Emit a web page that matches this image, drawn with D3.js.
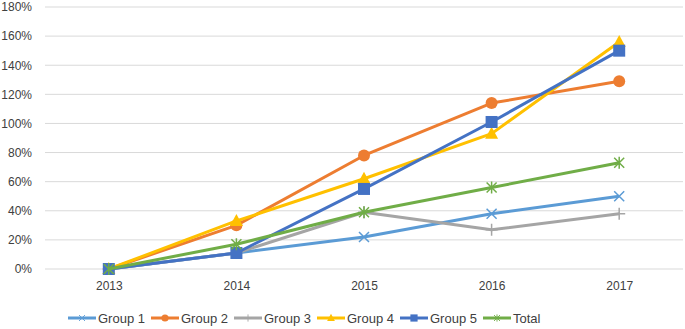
<!DOCTYPE html>
<html>
<head>
<meta charset="utf-8">
<script src="https://cdn.jsdelivr.net/npm/d3@7"></script>
<style>
  body { margin: 0; background: #fff; }
  text { font-family: "Liberation Sans", Arial, sans-serif; fill: #404040; }
</style>
</head>
<body>
<div id="chart"></div>
<script>
var years = ["2013", "2014", "2015", "2016", "2017"];
var yTicks = [0, 20, 40, 60, 80, 100, 120, 140, 160, 180];

var group1 = [0, 11, 22, 38, 50];
var group2 = [0, 30, 78, 114, 129];
var group3 = [0, 11, 39, 27, 38];
var group4 = [0, 33, 62, 93, 156];
var group5 = [0, 11, 55, 101, 150];
var total  = [0, 17, 39, 56, 73];

var seriesNames = ["Group 1", "Group 2", "Group 3", "Group 4", "Group 5", "Total"];
var seriesColors = ["#5b9bd5", "#ed7d31", "#a5a5a5", "#ffc000", "#4472c4", "#70ad47"];
var seriesMarkers = ["x", "circle", "plus", "triangle", "square", "star"];
var seriesValues = [group1, group2, group3, group4, group5, total];

var W = 685, H = 329;
var margin = {top: 7, right: 2, bottom: 60, left: 45};
var width = W - margin.left - margin.right;
var height = 269 - margin.top;

var svg = d3.select("#chart")
  .append("svg")
    .attr("width", W)
    .attr("height", H);

var g = svg.append("g")
    .attr("transform", "translate(" + margin.left + "," + margin.top + ")");

var x = d3.scalePoint()
  .domain(years)
  .range([0, width])
  .padding(0.5);

var y = d3.scaleLinear()
  .domain([0, 180])
  .range([height, 0]);

// gridlines
g.selectAll(".grid")
  .data(yTicks)
  .enter().append("line")
    .attr("x1", 0)
    .attr("x2", width)
    .attr("y1", function(d) { return y(d); })
    .attr("y2", function(d) { return y(d); })
    .attr("stroke", "#d9d9d9")
    .attr("stroke-width", 1);

// y axis labels
var yAxis = g.append("g")
  .call(d3.axisLeft(y).tickValues(yTicks).tickSize(0).tickPadding(13)
    .tickFormat(function(d) { return d + "%"; }));
yAxis.select(".domain").remove();
yAxis.selectAll("text")
  .style("font-size", "12px")
  .style("font-family", "'Liberation Sans', Arial, sans-serif")
  .attr("fill", "#404040");

// x axis labels
var xAxis = g.append("g")
  .attr("transform", "translate(0," + height + ")")
  .call(d3.axisBottom(x).tickSize(0).tickPadding(12));
xAxis.select(".domain").remove();
xAxis.selectAll("text")
  .style("font-size", "12px")
  .style("font-family", "'Liberation Sans', Arial, sans-serif")
  .attr("fill", "#404040");

function drawMarker(sel, type, color) {
  if (type === "circle") {
    sel.append("circle").attr("r", 6).attr("fill", color);
  } else if (type === "square") {
    sel.append("rect").attr("x", -6).attr("y", -6).attr("width", 12).attr("height", 12).attr("fill", color);
  } else if (type === "triangle") {
    sel.append("path").attr("d", "M0,-7L6.5,5L-6.5,5Z").attr("fill", color);
  } else if (type === "x") {
    sel.append("path").attr("d", "M-5,-5L5,5M-5,5L5,-5").attr("stroke", color).attr("stroke-width", 1.5);
  } else if (type === "plus") {
    sel.append("path").attr("d", "M-6,0L6,0M0,-6L0,6").attr("stroke", color).attr("stroke-width", 1.5);
  } else if (type === "star") {
    sel.append("path").attr("d", "M-5,-5L5,5M-5,5L5,-5M0,-6L0,6").attr("stroke", color).attr("stroke-width", 1.5);
  }
}

var line = d3.line()
  .x(function(d, i) { return x(years[i]); })
  .y(function(d) { return y(d); });

seriesValues.forEach(function(vals, s) {
  g.append("path")
    .datum(vals)
    .attr("fill", "none")
    .attr("stroke", seriesColors[s])
    .attr("stroke-width", 3)
    .attr("stroke-linejoin", "round")
    .attr("d", line);

  vals.forEach(function(v, i) {
    var m = g.append("g")
      .attr("transform", "translate(" + x(years[i]) + "," + y(v) + ")");
    drawMarker(m, seriesMarkers[s], seriesColors[s]);
  });
});

// legend
var legend = svg.append("g").attr("transform", "translate(68,318)");
seriesNames.forEach(function(name, s) {
  var item = legend.append("g").attr("transform", "translate(" + (s * 83) + ",0)");
  item.append("line")
    .attr("x1", 0).attr("x2", 28)
    .attr("stroke", seriesColors[s])
    .attr("stroke-width", 3);
  var m = item.append("g").attr("transform", "translate(14,0) scale(0.6)");
  drawMarker(m, seriesMarkers[s], seriesColors[s]);
  item.append("text")
    .attr("x", 30)
    .attr("y", 0)
    .attr("dy", "0.35em")
    .style("font-size", "13px")
    .text(name);
});
</script>
</body>
</html>
